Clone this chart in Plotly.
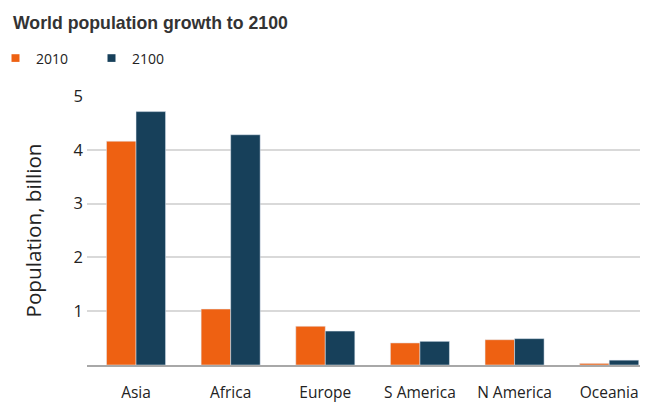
import plotly.graph_objects as go

regions = ["Asia", "Africa", "Europe", "S America", "N America", "Oceania"]
series_names = ["2010", "2100"]
pop_2010 = [4.16, 1.04, 0.72, 0.41, 0.47, 0.03]
pop_2100 = [4.71, 4.28, 0.63, 0.44, 0.49, 0.09]
y_ticks = [1, 2, 3, 4, 5]

ORANGE = "#EE6112"
NAVY = "#17405A"
COLORS = [ORANGE, NAVY]
FONT = "Open Sans"

# the page adds an 8px body margin, so the figure is 8px smaller
W, H = 640, 395
ML, MR, MT, MB = 79, 0, 88, 27
PW, PH = W - ML - MR, H - MT - MB


def px_x(px):
    return (px - ML) / PW


def px_y(py):
    return (H - MB - py) / PH


fig = go.Figure()
for name, vals, col in zip(series_names, [pop_2010, pop_2100], COLORS):
    fig.add_trace(go.Bar(x=regions, y=vals, name=name, marker_color=col,
                         showlegend=False))

# legend drawn as small square swatches with labels
legend_x = [7.5, 103.5]   # swatch centres (figure px)
legend_y = 48.5
for name, col, lx in zip(series_names, COLORS, legend_x):
    fig.add_shape(type="rect", xref="paper", yref="paper",
                  x0=px_x(lx - 4), x1=px_x(lx + 4),
                  y0=px_y(legend_y + 4), y1=px_y(legend_y - 4),
                  fillcolor=col, line_width=0, layer="above")
    fig.add_annotation(text=name, xref="paper", yref="paper",
                       x=px_x(lx + 18), y=px_y(legend_y),
                       xanchor="left", yanchor="middle", showarrow=False,
                       font=dict(family=FONT, size=14, color="#222222"))

fig.update_layout(
    width=W, height=H,
    margin=dict(l=ML, r=MR, t=MT, b=MB),
    paper_bgcolor="white", plot_bgcolor="white",
    barmode="group", bargap=0.376, bargroupgap=0,
    showlegend=False,
    font=dict(family=FONT, color="#222222"),
    title=dict(text="<b>World population growth to 2100</b>",
               font=dict(family="Liberation Sans", size=17.7, color="#333333"),
               xref="container", x=5/W, xanchor="left",
               yref="container", y=1-15/H, yanchor="middle"),
    xaxis=dict(type="category", range=[-0.518, 5.41], showgrid=False,
               showline=True, linecolor="#a8a8a8", linewidth=2,
               tickfont=dict(family=FONT, size=15.5, color="#222222"),
               ticks="", ticklabelstandoff=12, fixedrange=True),
    yaxis=dict(range=[0, 5], tickvals=y_ticks, showgrid=True,
               gridcolor="#d9d9d9", gridwidth=2, zeroline=False,
               tickfont=dict(family=FONT, size=16.5, color="#222222"),
               ticks="", ticklabelstandoff=3,
               title=dict(text="Population, billion", standoff=26,
                          font=dict(family=FONT, size=20.7, color="#222222")),
               automargin=False, fixedrange=True),
)

fig.write_html("out.html")
